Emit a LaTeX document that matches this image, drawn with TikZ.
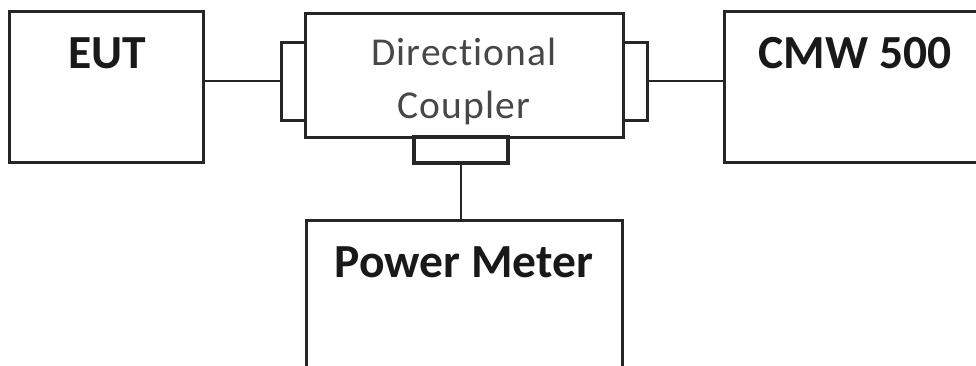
\documentclass[tikz,border=0pt]{standalone}
\usepackage{fontspec}
\setmainfont{Carlito}
\newfontfamily\lightfont[LetterSpace=2.7,Ligatures=NoCommon]{Carlito}
\begin{document}
\begin{tikzpicture}[x=1pt,y=-1pt,
  box/.style={draw=black!85, line width=3pt, rectangle, inner sep=0pt, fill=white},
  conn/.style={draw=black!85, line width=3pt, rectangle, inner sep=0pt, fill=white},
  wire/.style={draw=black!85, line width=2.8pt},
  bold label/.style={font=\fontsize{47.5}{50}\selectfont\bfseries, text=black!90, anchor=base, inner sep=0pt},
  light label/.style={font=\lightfont\fontsize{39.5}{42}\selectfont, text=black!72, anchor=base, inner sep=0pt}]
\useasboundingbox (0,0) rectangle (976,365);
\clip (0,0) rectangle (976,365);
% boxes
\node[box, minimum width=194pt, minimum height=151pt] (eut) at (106,86.5) {};
\node[box, minimum width=318pt, minimum height=124pt] (dc) at (464,75) {};
\node[box, minimum width=280pt, minimum height=151pt] (cmw) at (864,86.5) {};
\node[box, minimum width=316pt, minimum height=170pt] (pm) at (464,305) {};
% connectors
\node[conn, minimum width=24pt, minimum height=78pt] (lc) at (293,81) {};
\node[conn, minimum width=24pt, minimum height=78pt] (rc) at (635,81) {};
\node[conn, line width=4pt, minimum width=94pt, minimum height=26pt] (bc) at (461,150) {};
% wires
\draw[wire] (lc.west) -- (lc.west -| eut.east);
\draw[wire] (rc.east) -- (rc.east -| cmw.west);
\draw[wire] (bc.south) -- (bc.south |- pm.north);
% labels
\node[bold label] (eutt) at (107,68) {EUT};
\node[bold label] (cmwt) at (855,68) {CMW 500};
\node[bold label] (pmt) at (464,277) {Power Meter};
\node[light label] (dct1) at (464,65) {Directional};
\node[light label] (dct2) at (464,118) {Coupler};
\end{tikzpicture}
\end{document}
